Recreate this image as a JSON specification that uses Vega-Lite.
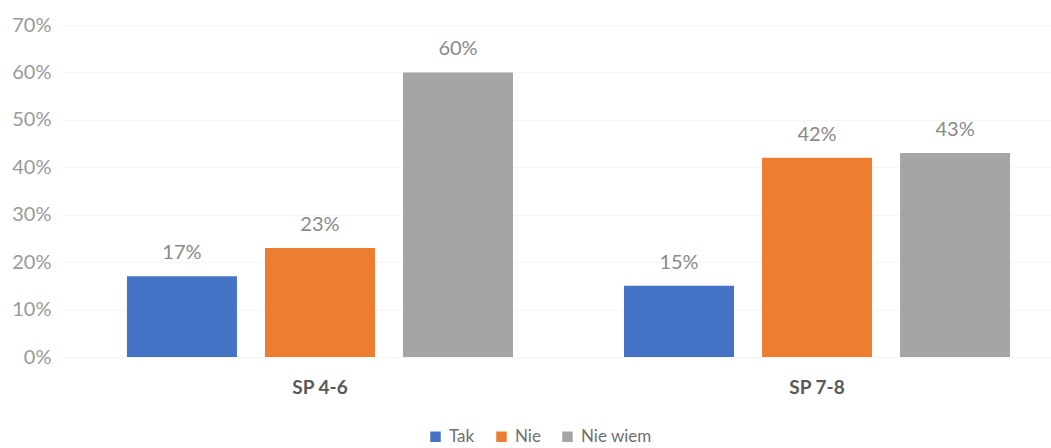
{
  "$schema": "https://vega.github.io/schema/vega-lite/v6.json",
  "width": 991,
  "height": 332,
  "autosize": {"type": "none"},
  "padding": {"left": 60, "top": 25, "right": 0, "bottom": 91},
  "background": "white",
  "config": {"view": {"stroke": null}, "font": "Lato"},
  "data": {
    "values": [
      {"grupa": "SP 4-6", "odp": "Tak", "wartosc": 0.17},
      {"grupa": "SP 4-6", "odp": "Nie", "wartosc": 0.23},
      {"grupa": "SP 4-6", "odp": "Nie wiem", "wartosc": 0.60},
      {"grupa": "SP 7-8", "odp": "Tak", "wartosc": 0.15},
      {"grupa": "SP 7-8", "odp": "Nie", "wartosc": 0.42},
      {"grupa": "SP 7-8", "odp": "Nie wiem", "wartosc": 0.43}
    ]
  },
  "encoding": {
    "x": {
      "field": "grupa", "type": "nominal", "sort": ["SP 4-6", "SP 7-8"],
      "scale": {"range": [0, 1017], "paddingInner": 0.167, "paddingOuter": 0.1065},
      "axis": {"title": null, "labelAngle": 0, "domain": false, "ticks": false, "labelFontWeight": "bold", "labelFontSize": 19, "labelColor": "#595959", "labelPadding": 21}
    },
    "xOffset": {
      "field": "odp", "type": "nominal", "sort": ["Tak", "Nie", "Nie wiem"],
      "scale": {"paddingInner": 0.203, "paddingOuter": 0.1015}
    },
    "y": {
      "field": "wartosc", "type": "quantitative",
      "scale": {"domain": [0, 0.7]},
      "axis": {"title": null, "format": ".0%", "values": [0, 0.1, 0.2, 0.3, 0.4, 0.5, 0.6, 0.7], "domain": false, "ticks": false, "labelPadding": 9, "labelFontSize": 20, "labelColor": "#9a9a9a", "gridColor": "#f5f5f5", "gridWidth": 1}
    }
  },
  "layer": [
    {
      "mark": {"type": "bar"},
      "encoding": {
        "color": {
          "field": "odp", "type": "nominal", "sort": ["Tak", "Nie", "Nie wiem"],
          "scale": {"domain": ["Tak", "Nie", "Nie wiem"], "range": ["#4472C4", "#ED7D31", "#A5A5A5"]},
          "legend": {"title": null, "orient": "none", "legendX": 367, "legendY": 403, "direction": "horizontal", "symbolType": "square", "symbolSize": 110, "labelFontSize": 17, "labelColor": "#707070", "labelOffset": 5, "columnPadding": 18}
        }
      }
    },
    {
      "mark": {"type": "text", "dy": -23, "fontSize": 20, "color": "#8a8a8a"},
      "encoding": {"text": {"field": "wartosc", "type": "quantitative", "format": ".0%"}}
    }
  ]
}
